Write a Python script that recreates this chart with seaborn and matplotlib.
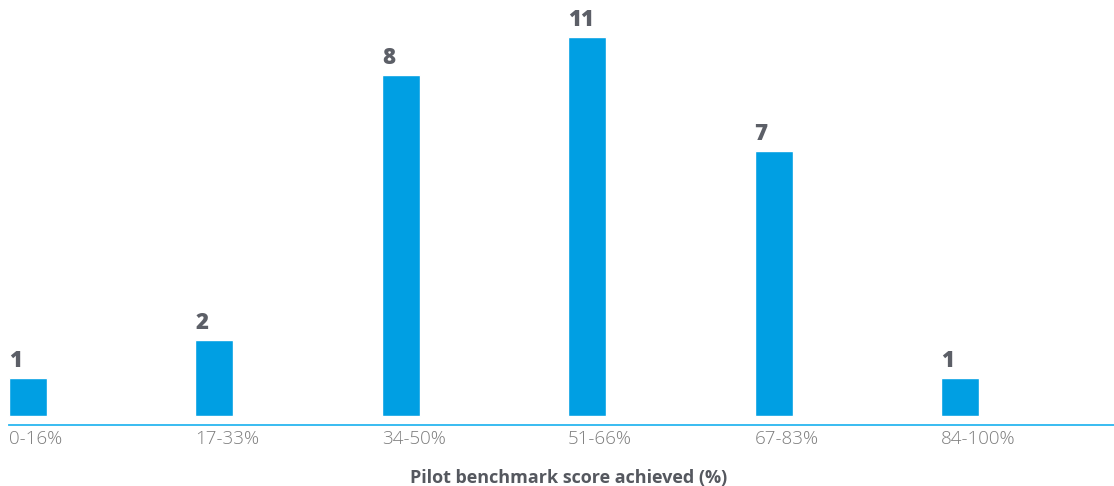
import matplotlib
matplotlib.use("Agg")
import matplotlib.pyplot as plt
import matplotlib.transforms as mtrans
import seaborn as sns
import pandas as pd

categories = ["0-16%", "17-33%", "34-50%", "51-66%", "67-83%", "84-100%"]
counts = [1, 2, 8, 11, 7, 1]              # printed value labels
bar_heights = [1, 2, 8.97, 9.97, 6.97, 1]  # bar lengths as drawn in the picture
x_title = "Pilot benchmark score achieved (%)"

sns.set_theme(style="white")
plt.rcParams["font.family"] = ["Open Sans", "DejaVu Sans"]

df = pd.DataFrame({"cat": categories, "h": bar_heights})

W, H = 1114, 486
fig = plt.figure(figsize=(W / 100, H / 100), dpi=100)
ax = fig.add_axes([9 / W, (H - 424.7) / H, (W - 9) / W, 424.7 / H])

bw = 38 / 186.4
sns.barplot(data=df, x="cat", y="h", color="#009fe3", width=bw, saturation=1,
            ax=ax, order=categories)

ax.set_xlim(-bw / 2, (W - 28) / 186.4)
ax.set_ylim(-8.7 / 38, 416 / 38)

for s in ["top", "right", "left"]:
    ax.spines[s].set_visible(False)
ax.spines["bottom"].set_color("#29b6f0")
ax.spines["bottom"].set_linewidth(1.3)
ax.set_yticks([])
ax.set_ylabel("")
ax.set_xlabel("")
ax.tick_params(axis="x", length=0, pad=4)
ax.set_xticks(range(len(categories)))
ax.set_xticklabels(categories, ha="left", fontsize=13.5, color="#7d7d7d",
                   fontweight="light")
off = mtrans.ScaledTranslation(-19 / 100, 0, fig.dpi_scale_trans)
for lbl in ax.get_xticklabels():
    lbl.set_transform(lbl.get_transform() + off)

for i, (c, h) in enumerate(zip(counts, bar_heights)):
    ax.annotate(str(c), xy=(i - bw / 2, h), xytext=(0, 3.5), textcoords="offset points",
                ha="left", va="bottom", fontsize=16, fontweight="heavy", color="#5c5f67")

fig.text(569 / W, 1 - 478 / H, x_title, ha="center", va="center", fontsize=13,
         fontweight="bold", color="#55585f")

fig.savefig("out.png", dpi=100)
